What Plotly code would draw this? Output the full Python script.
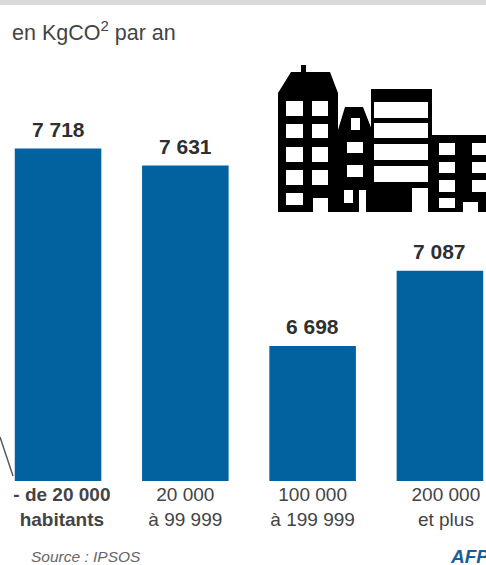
import plotly.graph_objects as go

# Household CO2 emissions by size of town
categories = ["<b>- de 20 000<br>habitants</b>", "20 000<br>à 99 999", "100 000<br>à 199 999", "200 000<br>et plus"]
emissions = [7718, 7631, 6698, 7087]
value_labels = ["7 718", "7 631", "6 698", "7 087"]
# The outer captions sit slightly right of their bars
label_positions = [0.03, 1, 2, 3.047]

W, H = 486, 565
BLUE = "#02629f"
FONT = "Liberation Sans"


def px(x):
    return x / W


def py(y):
    return 1 - y / H


def polygon(points, color):
    d = "M " + " L ".join(f"{px(x):.5f},{py(y):.5f}" for x, y in points) + " Z"
    return dict(type="path", path=d, xref="paper", yref="paper",
                fillcolor=color, line=dict(width=0), layer="above")


def box(x0, y0, x1, y1, color):
    return dict(type="rect", xref="paper", yref="paper", x0=px(x0), x1=px(x1),
                y0=py(y1), y1=py(y0), fillcolor=color, line=dict(width=0), layer="above")


# City skyline icon: silhouettes first, then the openings in white
shapes = [
    box(0, 0, W, 5, "#d9dbdb"),
    polygon([(278, 212), (278, 93), (291, 72), (301, 72), (301, 65), (306, 65),
             (306, 72), (330, 72), (338, 93), (338, 130), (345, 107), (363, 107),
             (372, 130), (372, 212)], "#000000"),
    box(371, 89, 432, 212, "#000000"),
    box(432, 135, W, 212, "#000000"),
]
window_rows = [(101, 116), (124, 138), (147, 162), (170, 185)]
for y0, y1 in window_rows:
    shapes += [box(286, y0, 303, y1, "#ffffff"), box(312, y0, 328, y1, "#ffffff")]
shapes += [
    box(286, 193, 303, 205, "#ffffff"),
    box(313, 198, 328, 212, "#ffffff"),
    box(351, 118, 360, 130, "#ffffff"),
    box(347, 142, 363, 153, "#ffffff"),
    box(347, 165, 363, 177, "#ffffff"),
    box(344, 190, 353, 203, "#ffffff"),
    box(359, 190, 366, 212, "#ffffff"),
    box(374, 102, 428, 118, "#ffffff"),
    box(374, 123, 428, 138, "#ffffff"),
    box(374, 144, 428, 160, "#ffffff"),
    box(374, 166, 428, 182, "#ffffff"),
    box(412, 188, 428, 212, "#ffffff"),
    box(463, 202, 478, 212, "#ffffff"),
]
for y0, y1 in [(143, 155), (162, 173), (180, 192)]:
    shapes += [box(439, y0, 455, y1, "#ffffff"), box(472, y0, W, y1, "#ffffff")]
shapes.append(box(439, 198, 455, 208, "#ffffff"))

# Leader line running into the first bar
shapes.append(dict(type="line", xref="paper", yref="paper", x0=px(0), y0=py(437),
                   x1=px(13), y1=py(476), line=dict(color="#5a5a5a", width=1.5)))

fig = go.Figure(go.Bar(
    x=list(range(len(emissions))),
    y=emissions,
    width=0.68,
    marker=dict(color=BLUE, line=dict(width=0)),
    hoverinfo="skip",
))

# Value labels sit a fixed distance above each bar
value_annotations = [
    dict(text=f"<b>{label}</b>", x=i, y=value, xref="x", yref="y",
         xanchor="center", yanchor="middle", yshift=19, showarrow=False,
         font=dict(family=FONT, size=21, color="#2f2f2f"))
    for i, (label, value) in enumerate(zip(value_labels, emissions))
]

fig.update_layout(
    width=W, height=H,
    margin=dict(l=0, r=0, t=0, b=0),
    paper_bgcolor="#ffffff",
    plot_bgcolor="#ffffff",
    showlegend=False,
    shapes=shapes,
    xaxis=dict(
        range=[-0.456, 3.362],
        tickmode="array",
        tickvals=label_positions,
        ticktext=categories,
        tickfont=dict(family=FONT, size=19, color="#444444"),
        ticks="", showline=False, showgrid=False, zeroline=False,
        tickangle=0,
    ),
    yaxis=dict(
        domain=[84 / H, 1],
        range=[6000, 8486],
        visible=False,
    ),
    annotations=value_annotations + [
        dict(text="en KgCO<sup>2</sup> par an", xref="paper", yref="paper",
             x=px(10), y=py(31), xanchor="left", yanchor="middle", showarrow=False,
             font=dict(family=FONT, size=21.5, color="#444444")),
        dict(text="<i>Source : IPSOS</i>", xref="paper", yref="paper",
             x=px(29), y=py(556), xanchor="left", yanchor="middle", showarrow=False,
             font=dict(family=FONT, size=15.5, color="#666666")),
        dict(text="<b><i>AFP</i></b>", xref="paper", yref="paper",
             x=px(448), y=py(556), xanchor="left", yanchor="middle", showarrow=False,
             font=dict(family=FONT, size=19, color="#1a5c96")),
    ],
)

fig.write_html("out.html", config=dict(displayModeBar=False))
